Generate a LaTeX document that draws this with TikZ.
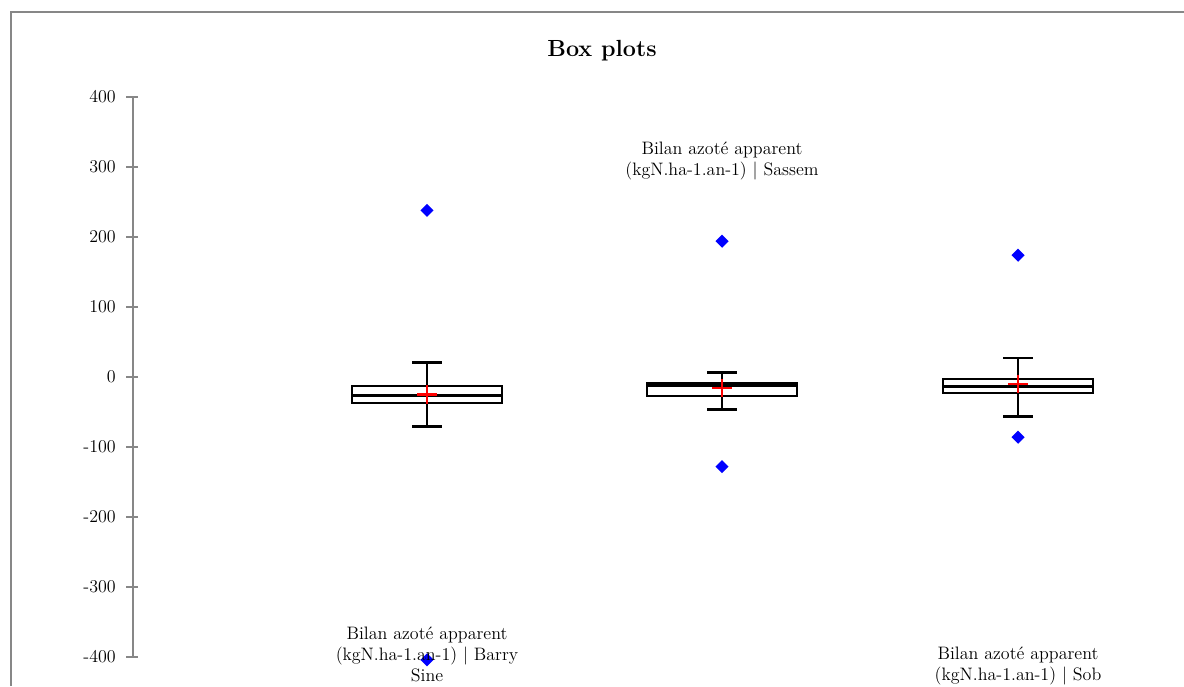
\documentclass[tikz,border=0pt]{standalone}
\usepackage{tikz}
\usetikzlibrary{shapes.geometric}
\definecolor{axisgray}{rgb}{0.53,0.53,0.53}
\tikzset{frameline/.style={axisgray, line width=1.5}}
\tikzset{axisline/.style={axisgray, line width=1.5}}
\tikzset{ticklabel/.style={anchor=east, inner sep=0, font=\fontsize{13.5}{15.75}\selectfont}}
\tikzset{boxline/.style={black, line width=2}}
\tikzset{meanline/.style={red, line width=1.8}}
\tikzset{outlier/.style={diamond, fill=blue, inner sep=0, minimum size=10}}
\tikzset{serielabel/.style={anchor=north, align=center, inner sep=0, font=\fontsize{13.5}{15.75}\selectfont}}

\begin{document}
\begin{tikzpicture}[x=0.75pt, y=0.75pt]
\useasboundingbox (0,0) rectangle (1184,686);
%\draw[step=100,lightgray,very thin] (0,0) grid (1184,686);
\draw[frameline] (11,0) -- (11,674) -- (1184,674);
\node[anchor=base, font=\fontsize{17.5}{21}\selectfont\bfseries] (title) at (602,629) {Box plots};
\begin{scope}[shift={(0,309)}, yscale=0.7]
\draw[axisline] (133,-400) -- (133,400);
\foreach \v in {-400,-300,...,400} {
  \draw[axisline] (126,\v) -- (138,\v);
  \node[ticklabel] (tick\v) at (116,\v) {\v};
}
% Barry Sine
\draw[boxline] (427,-71) -- (427,21);
\draw[boxline] (412,21) -- (442,21);
\draw[boxline] (412,-71) -- (442,-71);
\draw[boxline, fill=white] (352,-37) rectangle (502,-13);
\draw[boxline] (352,-26) -- (502,-26);
\draw[boxline] (427,-37) -- (427,-13);
\draw[meanline] (417,-25) -- (437,-25) (427,-12) -- (427,-38);
\node[outlier] (barry hi) at (427,238) {};
\node[outlier] (barry lo) at (427,-404) {};
% Sassem
\draw[boxline] (722,-46) -- (722,6);
\draw[boxline] (707,6) -- (737,6);
\draw[boxline] (707,-46) -- (737,-46);
\draw[boxline, fill=white] (647,-27) rectangle (797,-9);
\draw[boxline] (647,-12) -- (797,-12);
\draw[boxline] (722,-27) -- (722,-9);
\draw[meanline] (712,-16) -- (732,-16) (722,-3) -- (722,-29);
\node[outlier] (sassem hi) at (722,194) {};
\node[outlier] (sassem lo) at (722,-128) {};
% Sob
\draw[boxline] (1018,-56) -- (1018,27);
\draw[boxline] (1003,27) -- (1033,27);
\draw[boxline] (1003,-56) -- (1033,-56);
\draw[boxline, fill=white] (943,-23) rectangle (1093,-3);
\draw[boxline] (943,-14) -- (1093,-14);
\draw[boxline] (1018,-23) -- (1018,-3);
\draw[meanline] (1008,-10) -- (1028,-10) (1018,3) -- (1018,-23);
\node[outlier] (sob hi) at (1018,174) {};
\node[outlier] (sob lo) at (1018,-86) {};
\end{scope}
\node[serielabel] (barry label) at (427,59) {Bilan azoté apparent\\(kgN.ha-1.an-1) | Barry\\Sine};
\node[serielabel] (sassem label) at (722,544) {Bilan azoté apparent\\(kgN.ha-1.an-1) | Sassem};
\node[serielabel] (sob label) at (1018,39) {Bilan azoté apparent\\(kgN.ha-1.an-1) | Sob};
\end{tikzpicture}
\end{document}
